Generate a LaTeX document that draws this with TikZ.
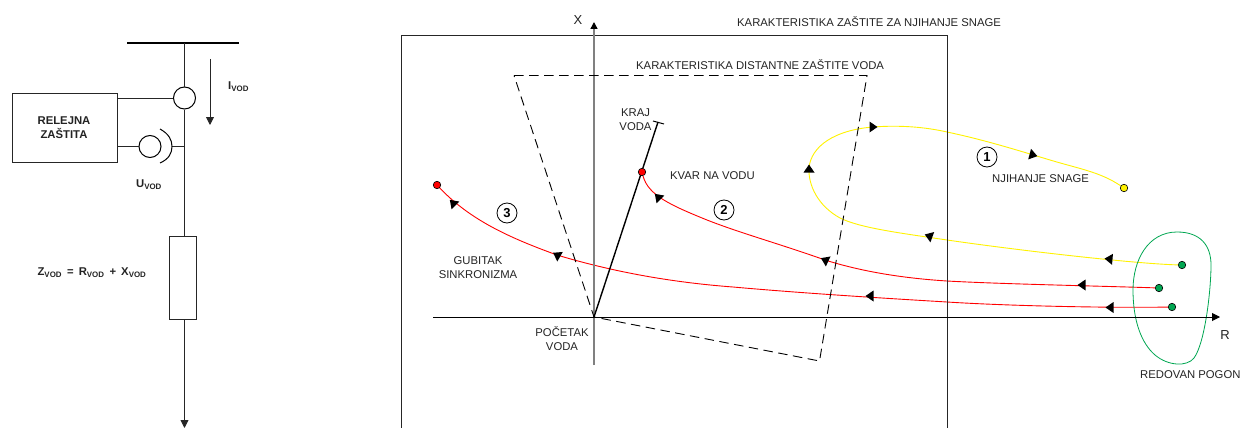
\documentclass[tikz,border=0pt]{standalone}
\usepackage{fontspec}
\setmainfont{Liberation Sans}
\usepackage{tikz}
\usetikzlibrary{positioning,arrows.meta,backgrounds}
\definecolor{LabelGray}{RGB}{35,35,35}
\definecolor{PogonGreen}{RGB}{0,166,81}

\begin{document}
\begin{tikzpicture}[
    x=1pt, y=-1pt,
    every node/.style={font=\fontsize{11.3}{14}\selectfont, text=LabelGray, align=center, inner sep=0pt},
    wire/.style={draw, line width=0.9pt, black!85},
    sign/.style={font=\fontsize{11.3}{14}\selectfont\bfseries},
    axis name/.style={font=\fontsize{13}{14}\selectfont},
    instr/.style={draw, circle, line width=1pt, black, minimum size=22pt, fill=white},
    dot/.style={draw, circle, line width=0.6pt, black, minimum size=7.5pt},
    numbered/.style={draw, circle, line width=0.8pt, black, minimum size=20pt, font=\fontsize{13}{13}\selectfont\bfseries, text=black},
    tip/.style={-{Triangle[length=8pt,width=8pt]}},
    path red/.style={red, line width=0.9pt},
    path yellow/.style={yellow, line width=0.9pt},
]
\useasboundingbox (0,0) rectangle (1242,428);

% relay scheme
\coordinate (busL) at (127,43);
\coordinate (busR) at (239,43);
\coordinate (busM) at (184.5,43);
\coordinate (lineEnd) at (184.5,428);
\coordinate (tapU) at (184.5,146.5);
\coordinate (capTip) at (172,146.5);
\node[instr] (ct) at (184.5,98) {};
\node[instr] (vt) at (150,146.5) {};
\node[draw, wire, minimum width=105pt, minimum height=69pt] (relay) at (64.5,127.5) {};
\node[sign] (relayTxt) at (64,127.5) {RELEJNA\\ZAŠTITA};
\node[draw, wire, fill=white, minimum width=27pt, minimum height=83pt] (zvod) at (182.5,277.5) {};
\node[sign, anchor=west] (ivod) at (228,87) {I\textsubscript{VOD}};
\node[sign] (uvod) at (149,185) {U\textsubscript{VOD}};
\node[sign] (zeq) at (92,273) {Z\textsubscript{VOD}\, =\, R\textsubscript{VOD}\, +\, X\textsubscript{VOD}};
\coordinate (iA) at (210,59);
\coordinate (iB) at (210,125);

\draw[line width=2.4pt] (busL) -- (busR);
\draw[wire] (busM) -- (ct);
\draw[wire] (ct) -- (184.5,236);
\draw[wire, tip] (184.5,319) -- (lineEnd);
\draw[wire, tip] (iA) -- (iB);
\draw[wire] (117,98) -- (ct);
\draw[wire] (117,146.5) -- (vt);
\draw[wire] (capTip) -- (tapU);
\draw[line width=1pt] (160,129) .. controls (169,134) and (172,140) .. (capTip) .. controls (172,153) and (169,159) .. (160,163);

% R-X plane
\coordinate (origin) at (594,317);
\coordinate (xTop) at (594,22);
\coordinate (xBot) at (594,365);
\coordinate (rLeft) at (433,317);
\coordinate (rRight) at (1220,317);
\coordinate (lineEndZ) at (658,122);
\coordinate (zoneA) at (514,75.5);
\coordinate (zoneB) at (867,75.5);
\coordinate (zoneC) at (819.5,361);

\draw[line width=0.9pt, black!85] (401.5,428) -- (401.5,35) -- (947,35) -- (947,428);
\draw[line width=1.4pt, black!50, -{Triangle[length=7pt,width=7pt,black]}] (xBot) -- (xTop);
\draw[line width=0.9pt, black, tip] (rLeft) -- (rRight);
\draw[dash pattern=on 9.5pt off 5.5pt, line width=0.9pt, black] (zoneA) -- (zoneB) -- (zoneC) -- (origin) -- cycle;
\draw[line width=1.4pt] (origin) -- (lineEndZ);
\draw[line width=1pt] (653,121) -- (664,124);

\node[axis name] (xLbl) at (578,20) {X};
\node[axis name] (rLbl) at (1225,335) {R};
\node[anchor=west] (swingZone) at (737,22) {KARAKTERISTIKA ZAŠTITE ZA NJIHANJE SNAGE};
\node[anchor=west] (distZone) at (636,65) {KARAKTERISTIKA DISTANTNE ZAŠTITE VODA};
\node (lineFar) at (635.5,120) {KRAJ\\VODA};
\node[anchor=west] (fault) at (670,176) {KVAR NA VODU};
\node (syncLoss) at (478,268) {GUBITAK\\SINKRONIZMA};
\node (lineNear) at (562,338.5) {POČETAK\\VODA};
\node[anchor=west] (swingTxt) at (992,179) {NJIHANJE SNAGE};
\node[anchor=west] (normal) at (1140,375) {REDOVAN POGON};

\node[numbered] (one) at (987,157) {1};
\node[numbered] (two) at (724,210) {2};
\node[numbered] (three) at (507,213) {3};

% operating points
\node[dot, fill=yellow] (yEnd) at (1124,188) {};
\node[dot, fill=red] (fEnd) at (642,172) {};
\node[dot, fill=red] (sEnd) at (437,185) {};
\node[dot, fill=PogonGreen] (yStart) at (1182,265) {};
\node[dot, fill=PogonGreen] (fStart) at (1159,288) {};
\node[dot, fill=PogonGreen] (sStart) at (1172,307) {};

\begin{scope}[on background layer]
\draw[path yellow] (yStart) .. controls (1140,264) and (1030,252) .. (947,240) .. controls (900,233) and (860,228) .. (840,218) .. controls (818,206) and (808,185) .. (809,168) .. controls (811,146) and (835,130) .. (873,127) .. controls (900,125) and (925,127) .. (947,132) .. controls (985,140) and (1020,151) .. (1050,160) .. controls (1080,169) and (1100,172) .. (yEnd);
\draw[path red] (fStart) .. controls (1100,286) and (1000,284) .. (947,281) .. controls (900,278) and (860,271) .. (825,260) .. controls (780,244) and (740,233) .. (707,220) .. controls (670,205) and (648,195) .. (fEnd);
\draw[path red] (sStart) .. controls (1110,308) and (1010,306) .. (947,302) .. controls (880,298) and (800,293) .. (733,287) .. controls (680,283) and (620,274) .. (557,255) .. controls (510,238) and (470,220) .. (sEnd);
\draw[PogonGreen, line width=0.8pt] (1177,232) .. controls (1200,232) and (1211,245) .. (1211,265) .. controls (1211,290) and (1205,343) .. (1194,358) .. controls (1187,367) and (1168,366) .. (1155,355) .. controls (1141,343) and (1133,320) .. (1133,290) .. controls (1133,260) and (1148,232) .. (1177,232) -- cycle;
\end{scope}

% arrow heads on the trajectories
\foreach \px/\py/\ang in {1109/259/175, 929/236/160, 809/169/90, 873/127/0, 1033/155/-15,
    1082/285/180, 825/260/155, 658/197/135,
    1110/307.5/180, 870/296/180, 557/255/150, 453/203/135}
    \fill[shift={(\px,\py)}, rotate=\ang] (-3.5,-5.5) -- (4.5,0) -- (-3.5,5.5) -- cycle;
\end{tikzpicture}
\end{document}
